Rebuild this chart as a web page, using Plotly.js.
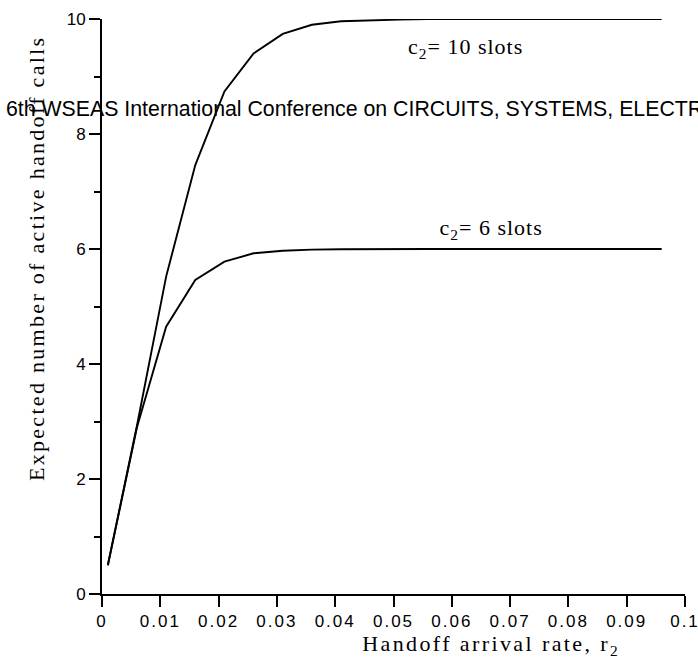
<!DOCTYPE html>
<html>
<head>
<meta charset="utf-8">
<script src="https://cdn.plot.ly/plotly-3.0.1.min.js"></script>
<style>
html, body { margin: 0; padding: 0; background: #fff; overflow: hidden; }
#chart { width: 698px; height: 669px; }
</style>
</head>
<body>
<div id="chart"></div>
<script>
// Handoff arrival rate r2
const arrivalRate = [0.001, 0.006, 0.011, 0.016, 0.021, 0.026, 0.031, 0.036, 0.041, 0.046,
                     0.051, 0.056, 0.061, 0.066, 0.071, 0.076, 0.081, 0.086, 0.091, 0.096];
// Expected number of active handoff calls, c2 = 10 slots
const calls10 = [0.5, 2.93, 5.52, 7.46, 8.74, 9.40, 9.74, 9.90, 9.96, 9.98,
                 9.99, 10.0, 10.0, 10.0, 10.0, 10.0, 10.0, 10.0, 10.0, 10.0];
// Expected number of active handoff calls, c2 = 6 slots
const calls6 = [0.5, 2.90, 4.65, 5.46, 5.78, 5.925, 5.97, 5.99, 5.995, 6.0,
                6.0, 6.0, 6.0, 6.0, 6.0, 6.0, 6.0, 6.0, 6.0, 6.0];
const seriesLabels = ['c<sub>2</sub>= 10 slots', 'c<sub>2</sub>= 6 slots'];
const xTitle = 'Handoff arrival rate, r<sub>2</sub>';
const yTitle = 'Expected number of active handoff calls';
const headerText = '6th WSEAS International Conference on CIRCUITS, SYSTEMS, ELECTRONICS, CONTROL & SIGNAL PROCESSING';

const serif = 'Liberation Serif, Times New Roman, serif';
const sans = 'Liberation Sans, Arial, sans-serif';

const traces = [
  { x: arrivalRate, y: calls10, mode: 'lines', line: { color: '#000', width: 1.9 }, name: 'c2=10', showlegend: false, hoverinfo: 'skip' },
  { x: arrivalRate, y: calls6, mode: 'lines', line: { color: '#000', width: 1.9 }, name: 'c2=6', showlegend: false, hoverinfo: 'skip' }
];

const layout = {
  width: 698, height: 669,
  margin: { l: 102, r: 13, t: 19, b: 75, pad: 0 },
  paper_bgcolor: '#fff', plot_bgcolor: '#fff',
  showlegend: false,
  xaxis: {
    range: [0, 0.1], dtick: 0.01, tick0: 0,
    showgrid: false, zeroline: false,
    showline: true, linecolor: '#000', linewidth: 2,
    ticks: 'outside', ticklen: 11, tickwidth: 2, tickcolor: '#000',
    tickfont: { family: sans, size: 17, color: '#000' }
  },
  yaxis: {
    range: [0, 10], dtick: 2, tick0: 0,
    showgrid: false, zeroline: false,
    showline: true, linecolor: '#000', linewidth: 2,
    ticks: 'outside', ticklen: 11, tickwidth: 2, tickcolor: '#000',
    tickfont: { family: sans, size: 17, color: '#000' },
    minor: { dtick: 1, ticks: 'outside', ticklen: 6, tickwidth: 2, tickcolor: '#000', showgrid: false }
  },
  annotations: [
    { text: seriesLabels[0], xref: 'paper', yref: 'paper', x: 0.6237, y: 0.949, xanchor: 'center', yanchor: 'middle', showarrow: false,
      font: { family: serif, size: 22, color: '#000' } },
    { text: seriesLabels[1], xref: 'paper', yref: 'paper', x: 0.668, y: 0.6345, xanchor: 'center', yanchor: 'middle', showarrow: false,
      font: { family: serif, size: 22, color: '#000' } },
    { text: xTitle, xref: 'paper', yref: 'paper', x: 0.667, y: -0.0887, xanchor: 'center', yanchor: 'middle', showarrow: false,
      font: { family: serif, size: 22, color: '#000' } },
    { text: yTitle, xref: 'paper', yref: 'paper', x: -0.112, y: 0.5835, xanchor: 'center', yanchor: 'middle', showarrow: false, textangle: -90,
      font: { family: serif, size: 22, color: '#000' } },
    { text: headerText, xref: 'paper', yref: 'paper', x: -0.1675, y: 0.844, xanchor: 'left', yanchor: 'middle', showarrow: false,
      font: { family: sans, size: 21.3, color: '#000' } }
  ]
};

Plotly.newPlot('chart', traces, layout, { staticPlot: true, displayModeBar: false }).then(function (gd) {
  const spacing = [1, 1, 2.4, 2.3, 0];
  gd.querySelectorAll('.annotation').forEach(function (a, i) {
    const t = a.querySelector('text.annotation-text');
    if (t && spacing[i]) t.style.letterSpacing = spacing[i] + 'px';
  });
  gd.querySelectorAll('.xtick text').forEach(function (t) { t.style.letterSpacing = '2px'; });
});
</script>
</body>
</html>
